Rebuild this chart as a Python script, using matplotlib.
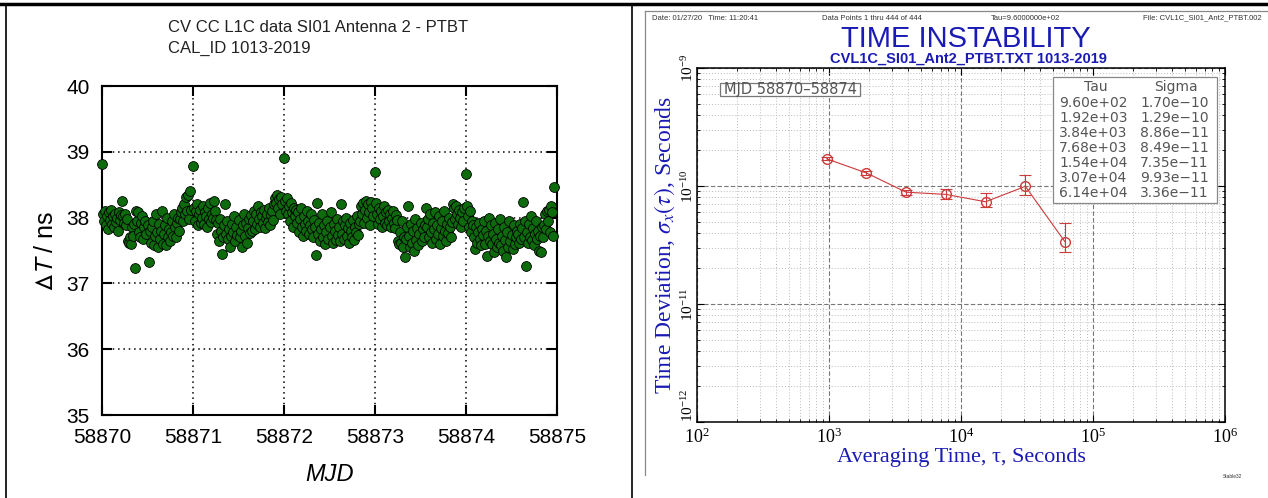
import numpy as np
import matplotlib
matplotlib.use("Agg")
import matplotlib.pyplot as plt
from matplotlib.lines import Line2D
from matplotlib.patches import Rectangle

plt.rcParams["font.family"] = ["Liberation Sans", "DejaVu Sans"]
plt.rcParams["mathtext.fontset"] = "stix"

W, H = 1268, 498


def fx(x):
    return x / W


def fy(y):
    return 1 - y / H


# ---- left panel: CV CC L1C delta T, one point every 16 min (90 per day)
mjd_days = [58870, 58871, 58872, 58873, 58874]
dt_day0 = [38.81,
           38.05, 37.95, 38.10, 37.88, 38.02, 37.82, 38.08, 37.97, 38.12, 37.90,
           38.03, 37.85, 38.06, 37.93, 38.00, 37.80, 38.09, 37.96, 38.04,
           38.25,
           38.02, 37.92, 38.06, 37.88, 37.98, 37.65, 37.62, 37.70, 37.60, 37.85,
           37.72, 37.90,
           37.23, 38.10,
           37.95, 38.08, 37.78, 37.70, 37.92, 38.02, 37.68, 37.85, 37.95, 37.75,
           37.88, 37.33, 37.80,
           37.62, 37.85, 37.95, 37.58, 37.72, 38.05, 37.78, 37.56, 37.90, 37.68,
           37.80, 38.10, 37.60, 37.75, 37.88, 37.58, 38.00, 37.70, 37.82, 37.65,
           37.78, 37.95, 37.72, 38.05, 37.85, 37.70, 37.92, 38.00, 37.80, 37.98,
           38.08,
           38.15, 37.95, 38.20, 38.05, 38.32, 38.10, 38.35, 37.98, 38.40, 38.12]
dt_day1 = [38.78,
           38.15, 37.95, 38.10, 38.20, 37.88, 38.05, 38.12, 37.92, 38.00, 38.18,
           37.90, 38.08, 38.02, 37.86, 38.14, 37.98, 38.22, 37.94, 38.06, 38.00,
           38.25, 38.10, 37.96,
           37.75, 37.92, 37.65, 37.98, 37.80, 37.45, 37.70, 37.88,
           38.20,
           37.75, 37.95, 37.68, 37.82, 37.55, 37.72, 37.90, 37.78, 38.02, 37.65,
           37.85, 37.74, 37.96, 37.70, 37.80, 37.55, 37.88, 38.05, 37.72, 37.92,
           37.62, 37.84, 37.98, 37.76, 38.04, 37.80,
           37.95, 38.10, 37.82, 38.05, 37.90, 38.18, 37.98, 37.86, 38.08, 38.02,
           37.92, 38.12, 37.84, 38.00, 38.06, 37.94, 38.15, 37.88, 38.04, 38.10,
           37.96, 38.20,
           38.30, 38.22, 38.35, 38.15, 38.28, 38.05, 38.32, 38.20]
dt_day2 = [38.90,
           38.25, 38.10, 38.30, 38.05, 38.18, 37.95, 38.22, 38.08, 37.85, 38.15,
           38.02, 38.12,
           37.92, 38.08, 37.78, 37.98, 38.15, 37.85, 37.72, 38.02, 37.90, 37.80,
           38.10, 37.95, 37.75, 37.88, 38.05, 37.82, 37.70, 37.96, 37.86,
           37.43, 38.22,
           37.75, 37.92, 37.65, 37.82, 38.05, 37.70, 37.88, 37.60, 37.78, 37.95,
           37.68, 37.85, 38.08, 37.72, 37.62, 37.90, 37.80, 37.66, 37.98, 37.74,
           37.86, 37.64,
           38.20,
           37.75, 37.95, 37.68, 37.88, 38.00, 37.72, 37.84, 37.62, 37.92, 37.80,
           37.70, 37.96, 37.66, 37.86, 37.78, 38.02, 37.74, 37.90,
           37.95, 38.18, 38.05, 38.22, 37.92, 38.12, 38.25, 38.00, 38.20, 38.08,
           37.88, 38.24, 38.15, 38.02]
dt_day3 = [38.70,
           38.22, 38.05, 37.90, 38.15, 37.98, 38.10, 37.85, 38.02, 38.18, 37.92,
           38.08, 37.88, 38.12, 37.95, 38.05, 37.86, 38.00, 38.10, 37.92, 37.84,
           38.04, 37.96,
           37.65, 37.60, 37.78, 37.62, 37.95, 37.55, 37.70, 37.40, 37.68,
           37.85, 38.18,
           37.72, 37.55, 37.90, 37.62, 37.80, 37.50, 37.98, 37.66, 37.84, 37.58,
           37.75, 37.92, 37.64, 37.82, 37.70, 37.88,
           38.15,
           37.85, 37.98, 37.70, 38.05, 37.78, 37.62, 37.92, 37.82, 38.08, 37.68,
           37.88, 37.75, 38.02, 37.60, 37.84, 37.95, 37.72, 38.10, 37.80, 37.65,
           37.90, 37.76, 38.00, 37.86, 37.70, 37.94,
           38.20, 38.15, 37.98, 38.18, 38.05, 37.90, 38.12, 38.00, 37.85, 38.08,
           37.95, 38.15]
dt_day4 = [38.67,
           38.18, 38.02, 37.85, 38.10, 37.78, 37.95, 37.88,
           37.70, 37.52, 37.85, 37.62, 37.78, 37.92, 37.68, 37.58, 37.82, 37.74,
           37.95, 37.60, 37.80, 37.42, 37.72, 38.00, 37.65, 37.88,
           37.60, 37.75, 37.48, 37.92, 37.68, 37.55, 37.82, 37.62, 37.98, 37.58,
           37.72, 37.50, 37.86, 37.66, 37.40, 37.78, 37.56, 37.95, 37.64, 37.74,
           37.52, 37.88, 37.60, 37.70, 37.80,
           37.75, 37.62, 37.90, 37.68, 37.84,
           38.23, 37.70, 37.95, 37.27,
           37.78, 37.62, 37.90, 37.70, 38.02, 37.66, 37.84, 37.58, 37.75, 37.95,
           37.68, 37.80, 37.50, 37.72, 37.48, 37.86,
           37.70, 37.88, 38.05, 37.82, 38.10, 37.95, 38.12, 37.78, 38.18, 38.08,
           37.72, 38.46]
dt_days = [dt_day0, dt_day1, dt_day2, dt_day3, dt_day4]

# ---- right panel: Stable32 TDEV
tau = [960, 1920, 3840, 7680, 15360, 30720, 61440]
sigma = [1.70e-10, 1.29e-10, 8.86e-11, 8.49e-11, 7.35e-11, 9.93e-11, 3.36e-11]
sigma_lo = [1.65e-10, 1.25e-10, 8.45e-11, 7.80e-11, 6.68e-11, 8.40e-11, 2.78e-11]
sigma_hi = [1.75e-10, 1.33e-10, 9.20e-11, 9.48e-11, 8.64e-11, 1.25e-10, 4.87e-11]
tau_txt = ["9.60e+02", "1.92e+03", "3.84e+03", "7.68e+03", "1.54e+04", "3.07e+04", "6.14e+04"]
sigma_txt = ["1.70e\u221210", "1.29e\u221210", "8.86e\u221211", "8.49e\u221211",
             "7.35e\u221211", "9.93e\u221211", "3.36e\u221211"]

fig = plt.figure(figsize=(W / 100, H / 100), dpi=100)

# frame lines of the surrounding table
fig.add_artist(Line2D([0, 1], [fy(4), fy(4)], color="black", lw=2.5))
fig.add_artist(Line2D([fx(6), fx(6)], [fy(4), 0], color="black", lw=1.2))
fig.add_artist(Line2D([fx(632), fx(632)], [fy(4), 0], color="black", lw=1.2))
fig.add_artist(Line2D([fx(645), fx(645)], [fy(11), fy(475)], color="#888888", lw=0.9))
fig.add_artist(Line2D([fx(645), 1], [fy(11), fy(11)], color="#888888", lw=0.9))

# ---------------- left panel
ax = fig.add_axes([fx(102), fy(415), fx(557) - fx(102), fy(86) - fy(415)])
for d, vals in zip(mjd_days, dt_days):
    x = d + np.arange(len(vals)) / 90
    ax.scatter(x, vals, s=50, c="#0d6b0d", edgecolors="black", linewidths=0.6,
               zorder=3, clip_on=False)
ax.set_xlim(58870, 58875)
ax.set_ylim(35, 40)
ax.set_xticks(range(58870, 58876))
ax.set_yticks(range(35, 41))
ax.ticklabel_format(useOffset=False)
ax.grid(True, color="black", ls=(0, (1, 2.5)), lw=1.1)
ax.tick_params(direction="in", top=True, right=True, length=7, width=1.5,
               labelsize=15, pad=9)
for s in ax.spines.values():
    s.set_linewidth(1.5)
ax.set_xlabel("MJD", fontsize=17, style="italic", labelpad=12)
ax.set_ylabel(r"$\Delta T$ / ns", fontsize=18, labelpad=6, math_fontfamily="stixsans")
fig.text(fx(168), fy(28), "CV CC L1C data SI01 Antenna 2 - PTBT", fontsize=12,
         va="center", ha="left", color="#222222")
fig.text(fx(168), fy(48), "CAL_ID 1013-2019", fontsize=12,
         va="center", ha="left", color="#222222")

# ---------------- right panel
blue = "#1a1ab4"
red = "#cc3a3a"
ax2 = fig.add_axes([fx(697), fy(422), fx(1225) - fx(697), fy(68) - fy(422)])
ax2.set_xscale("log")
ax2.set_yscale("log")
ax2.set_xlim(1e2, 1e6)
ax2.set_ylim(1e-12, 1e-9)
ax2.set_yticks([1e-12, 1e-11, 1e-10, 1e-9])
ax2.set_xticks([1e2, 1e3, 1e4, 1e5, 1e6])
ax2.grid(which="major", color="#777777", ls=(0, (4, 2)), lw=0.8)
ax2.grid(which="minor", color="#bbbbbb", ls=(0, (1, 2)), lw=0.7)
ax2.tick_params(which="both", direction="in", top=True, right=True,
                labelfontfamily="Liberation Serif")
ax2.tick_params(which="major", length=5)
ax2.tick_params(which="minor", length=2.5)
ax2.tick_params(axis="y", labelrotation=90, pad=1, labelsize=11)
ax2.tick_params(axis="x", pad=4, labelsize=13)
ylbls = ax2.get_yticklabels()
for lbl in ylbls:
    lbl.set_va("center")
ylbls[0].set_va("bottom")
for s in ax2.spines.values():
    s.set_linewidth(1.1)

yerr = [np.array(sigma) - np.array(sigma_lo), np.array(sigma_hi) - np.array(sigma)]
ax2.errorbar(tau, sigma, yerr=yerr, fmt="-o", color=red, mfc="none", mec=red,
             ms=7, lw=0.8, elinewidth=0.8, capsize=4, capthick=0.8, zorder=4)

ax2.set_xlabel("Averaging Time, \u03c4, Seconds", fontsize=16, color=blue,
               fontfamily="Liberation Serif", labelpad=1)
ax2.set_ylabel(r"Time Deviation, $\sigma_x(\tau)$, Seconds", fontsize=17, color=blue,
               fontfamily="Liberation Serif")
ax2.yaxis.set_label_coords(-0.037, 0.5)

fig.text(fx(966), fy(39), "TIME INSTABILITY", fontsize=21, color=blue,
         ha="center", va="center")
fig.text(fx(968), fy(59), "CVL1C_SI01_Ant2_PTBT.TXT 1013-2019", fontsize=10.5,
         color=blue, ha="center", va="center", fontweight="bold")

hdr = dict(fontsize=5.5, color="#333333", va="center")
fig.text(fx(652), fy(18), "Date: 01/27/20   Time: 11:20:41", ha="left", **hdr)
fig.text(fx(822), fy(18), "Data Points 1 thru 444 of 444", ha="left", **hdr)
fig.text(fx(991), fy(18), "Tau=9.6000000e+02", ha="left", **hdr)
fig.text(fx(1262), fy(18), "File: CVL1C_SI01_Ant2_PTBT.002", ha="right", **hdr)

# MJD range box
fig.add_artist(Rectangle((fx(720), fy(96)), fx(860) - fx(720), fy(83) - fy(96),
                         facecolor="white", edgecolor="#777777", lw=0.9, zorder=5))
fig.text(fx(790), fy(89.5), "MJD 58870\u201358874", fontsize=10.5, color="#555555",
         ha="center", va="center", fontfamily="DejaVu Sans", zorder=6)

# tau / sigma table
fig.add_artist(Rectangle((fx(1053), fy(203)), fx(1217) - fx(1053), fy(77) - fy(203),
                         facecolor="white", edgecolor="#888888", lw=0.9, zorder=5))
tbl = dict(fontsize=10, color="#555555", va="center", fontfamily="DejaVu Sans", zorder=6)
fig.text(fx(1096), fy(87), "Tau", ha="center", **tbl)
fig.text(fx(1176), fy(87), "Sigma", ha="center", **tbl)
for i, (t, s) in enumerate(zip(tau_txt, sigma_txt)):
    fig.text(fx(1059), fy(103.3 + 14.9 * i), t, ha="left", **tbl)
    fig.text(fx(1140), fy(103.3 + 14.9 * i), s, ha="left", **tbl)

fig.text(fx(1232), fy(476), "Stable32", fontsize=3.5, color="#333333",
         ha="center", va="center")

fig.savefig("out.png", dpi=100)
